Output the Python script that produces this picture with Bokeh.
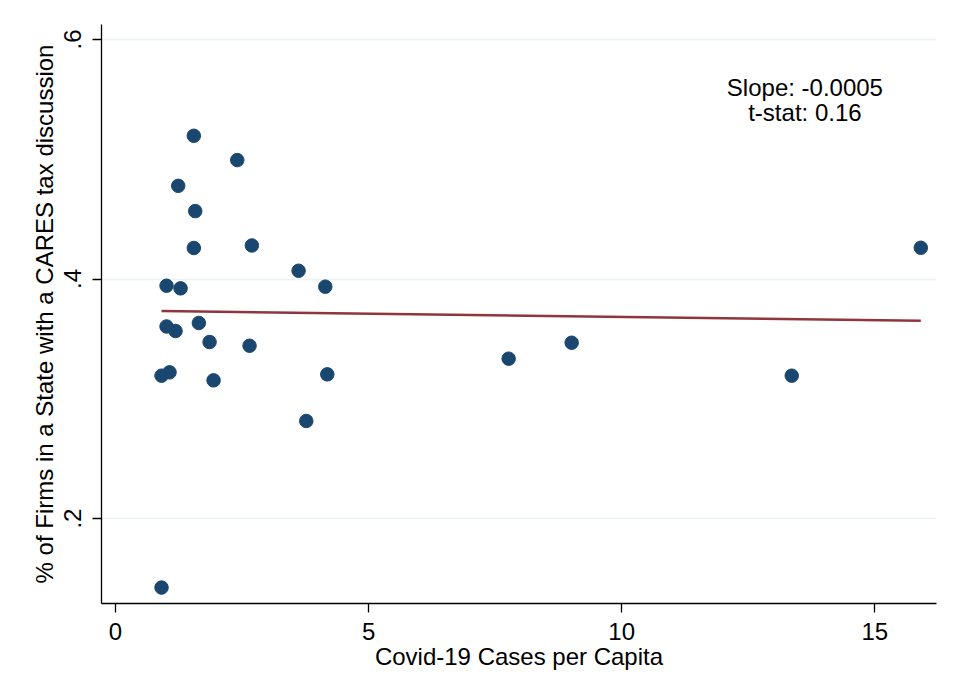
import numpy as np
from bokeh.plotting import figure
from bokeh.models import FixedTicker, Range1d, Label
from bokeh.embed import file_html
from bokeh.resources import INLINE

# Data
cases_per_capita = [0.909, 0.909, 1.067, 1.008, 1.008, 1.186, 1.239, 1.285, 1.547, 1.575,
                    1.547, 1.646, 1.858, 1.937, 2.405, 2.694, 2.648, 3.617, 3.769, 4.144,
                    4.184, 7.767, 9.012, 13.36, 15.91]
share_firms = [0.1424, 0.3193, 0.3221, 0.3944, 0.3604, 0.3566, 0.4778, 0.3922, 0.5196, 0.4567,
               0.4259, 0.3633, 0.3474, 0.3154, 0.4993, 0.4280, 0.3443, 0.4069, 0.2815, 0.3936,
               0.3204, 0.3335, 0.3468, 0.3193, 0.4261]
fit_intercept = 0.3738
fit_slope = -0.00054
x_ticks = [0, 5, 10, 15]
y_ticks = [0.2, 0.4, 0.6]
y_tick_labels = {0.2: ".2", 0.4: ".4", 0.6: ".6"}
annot_lines = ["Slope: -0.0005", "t-stat: 0.16"]

FONT = "Liberation Sans"
NAVY = "#1a476f"
MAROON = "#90353b"

p = figure(width=945, height=680, output_backend="svg", toolbar_location=None,
           x_range=Range1d(-0.277, 16.22), y_range=Range1d(0.1291, 0.6125),
           min_border_left=101, min_border_right=9, min_border_top=24, min_border_bottom=77)
p.outline_line_color = None
p.background_fill_color = "white"
p.border_fill_color = "white"

# grid
p.xgrid.visible = False
p.ygrid.ticker = FixedTicker(ticks=y_ticks)
p.ygrid.grid_line_color = "#eaf2f3"
p.ygrid.grid_line_width = 1.5

# fit line
xs = np.array([min(cases_per_capita), max(cases_per_capita)])
p.line(xs, fit_intercept + fit_slope * xs, line_color=MAROON, line_width=2.5)

# points
p.scatter(cases_per_capita, share_firms, size=13.5, fill_color=NAVY, line_color=NAVY)

# axes
for ax in (p.xaxis[0], p.yaxis[0]):
    ax.axis_line_color = "black"
    ax.axis_line_width = 1.3
    ax.major_tick_line_color = "black"
    ax.major_tick_line_width = 1.3
    ax.major_tick_in = 0
    ax.major_tick_out = 9
    ax.minor_tick_line_color = None
    ax.major_label_text_font = FONT
    ax.major_label_text_font_size = "24px"
    ax.major_label_text_color = "black"
    ax.axis_label_text_font = FONT
    ax.axis_label_text_font_size = "24px"
    ax.axis_label_text_font_style = "normal"
    ax.axis_label_text_color = "black"

p.xaxis.ticker = FixedTicker(ticks=x_ticks)
p.xaxis.axis_label = "Covid-19 Cases per Capita"
p.xaxis.major_label_standoff = 10
p.xaxis.axis_label_standoff = 0

p.yaxis.ticker = FixedTicker(ticks=y_ticks)
p.yaxis.major_label_overrides = y_tick_labels
p.yaxis.major_label_orientation = "parallel"
p.yaxis.major_label_standoff = 11
p.yaxis.axis_label = "% of Firms in a State with a CARES tax discussion"
p.yaxis.axis_label_standoff = 4

# annotation
for i, t in enumerate(annot_lines):
    p.add_layout(Label(x=13.62, y=0.5596 - i * 0.0208, text=t, text_align="center",
                       text_baseline="middle", text_font=FONT, text_font_size="24px",
                       text_color="black"))

open("out.html", "w").write(file_html(p, INLINE))
